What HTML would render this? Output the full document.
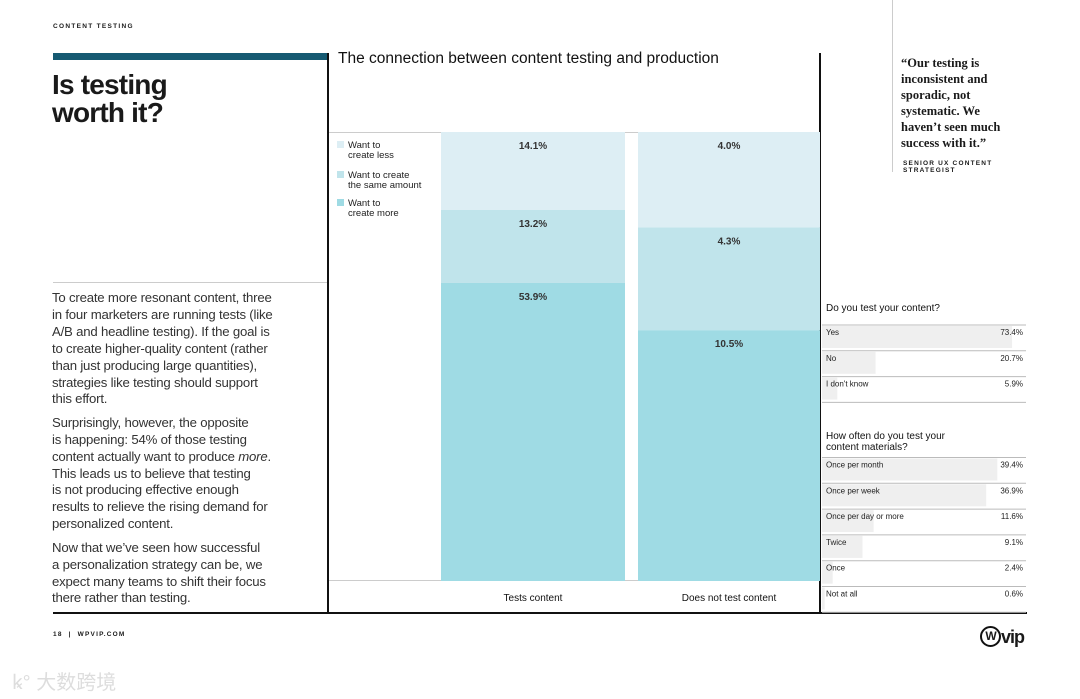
<!DOCTYPE html>
<html><head><meta charset="utf-8">
<style>
*{margin:0;padding:0;box-sizing:border-box}
body{width:1080px;height:699px;background:#fff;position:relative;overflow:hidden;font-family:"Liberation Sans",sans-serif;color:#1a1a1a}
.a{position:absolute}
.body p{font-size:13.2px;line-height:16.9px;color:#333;letter-spacing:-0.2px;margin-bottom:6.5px;white-space:nowrap}
</style></head>
<body>
<div class="a" style="left:53px;top:23px;font-size:6.5px;font-weight:bold;letter-spacing:1.3px">CONTENT TESTING</div>
<div class="a" style="left:53px;top:53px;width:276px;height:7px;background:#165a72"></div>
<div class="a" style="left:52px;top:71px;font-size:28px;line-height:28px;font-weight:bold;letter-spacing:-0.8px">Is testing<br>worth it?</div>
<div class="a" style="left:53px;top:282px;width:275px;height:1px;background:#ccc"></div>
<div class="a body" style="left:52px;top:290px;width:262px">
<p>To create more resonant content, three<br>in four marketers are running tests (like<br>A/B and headline testing). If the goal is<br>to create higher-quality content (rather<br>than just producing large quantities),<br>strategies like testing should support<br>this effort.</p>
<p>Surprisingly, however, the opposite<br>is happening: 54% of those testing<br>content actually want to produce <i>more</i>.<br>This leads us to believe that testing<br>is not producing effective enough<br>results to relieve the rising demand for<br>personalized content.</p>
<p>Now that we’ve seen how successful<br>a personalization strategy can be, we<br>expect many teams to shift their focus<br>there rather than testing.</p>
</div>
<div class="a" style="left:327px;top:53px;width:2px;height:561px;background:#111"></div>
<div class="a" style="left:819px;top:53px;width:2px;height:561px;background:#111"></div>
<div class="a" style="left:53px;top:612px;width:974px;height:2px;background:#111"></div>
<div class="a" style="left:892px;top:0;width:1px;height:172px;background:#ccc"></div>
<div class="a" style="left:901px;top:55px;width:120px;font-family:'Liberation Serif',serif;font-weight:bold;font-size:12.5px;line-height:16px">“Our testing is inconsistent and sporadic, not systematic. We haven’t seen much success with it.”</div>
<div class="a" style="left:903px;top:160px;font-size:6.5px;line-height:7px;font-weight:bold;letter-spacing:1.2px">SENIOR UX CONTENT<br>STRATEGIST</div>
<div class="a" style="left:53px;top:631px;font-size:6.5px;font-weight:bold;letter-spacing:1.2px">18 &nbsp;| &nbsp;WPVIP.COM</div>
<div class="a" style="left:980px;top:626px;font-size:18px;line-height:22px;font-weight:bold;letter-spacing:-1px"><span style="display:inline-block;width:21px;height:21px;border:2px solid #111;border-radius:50%;font-size:12px;text-align:center;line-height:17px;vertical-align:top">W</span>vip</div>
<div class="a" style="left:12px;top:666px;font-family:'Liberation Sans','Noto Sans CJK SC',sans-serif;font-size:20px;color:#ddd">ꝃ° 大数跨境</div>

<svg class="a" style="left:0;top:0" width="1080" height="699" id="chart"></svg>
<script>
const categories=["Tests content","Does not test content"];
const seriesNames=["Want to create less","Want to create the same amount","Want to create more"];
const lessVals=[14.1,4.0];
const sameVals=[13.2,4.3];
const moreVals=[53.9,10.5];
const q1Labels=["Yes","No","I don't know"];
const q1Vals=[73.4,20.7,5.9];
const q2Labels=["Once per month","Once per week","Once per day or more","Twice","Once","Not at all"];
const q2Vals=[39.4,36.9,11.6,9.1,2.4,0.6];

const NS="http://www.w3.org/2000/svg";
const svg=document.getElementById('chart');
function mk(t,a,txt){const e=document.createElementNS(NS,t);for(const k in a)e.setAttribute(k,a[k]);if(txt!==undefined)e.textContent=txt;svg.appendChild(e);return e;}
const F='Liberation Sans, sans-serif';
let t=mk('text',{x:338,y:63,'font-size':15.5,'font-family':F,fill:'#111'},"The connection between content testing and production");

mk('line',{x1:329,x2:820,y1:132.5,y2:132.5,stroke:'#ccc'});
mk('line',{x1:329,x2:820,y1:580.5,y2:580.5,stroke:'#ccc'});
const colors=['#ddeef4','#c0e4eb','#9fdbe4'];
const top0=132,bot=581,H=bot-top0;
const xs=[441,638],bw=[184,182];
function yScale(frac){return top0+frac*H;}
categories.forEach((c,i)=>{
  const vals=[lessVals[i],sameVals[i],moreVals[i]];
  const tot=vals.reduce((a,b)=>a+b,0);
  let acc=0;
  vals.forEach((v,j)=>{
    const y0=yScale(acc/tot),y1=yScale((acc+v)/tot);acc+=v;
    const r=mk('rect',{x:xs[i],y:y0,width:bw[i],height:y1-y0,fill:colors[j]});
    
    const l=mk('text',{x:xs[i]+bw[i]/2,y:y0+17,'font-size':10,'font-weight':'bold','font-family':F,'text-anchor':'middle',fill:'#333'},v.toFixed(1)+'%');
    
  });
  const cl=mk('text',{x:xs[i]+bw[i]/2,y:601,'font-size':10,'font-family':F,'text-anchor':'middle',fill:'#111'},c);
  
});
const legLines=[["Want to","create less"],["Want to create","the same amount"],["Want to","create more"]];
const legY=[141,171,199];
legLines.forEach((ls,j)=>{
  const g=mk('rect',{x:337,y:legY[j],width:7,height:7,fill:colors[j]});
  
  ls.forEach((s,k)=>{const e=mk('text',{x:348,y:legY[j]+7+k*10,'font-size':9.5,'font-family':F,fill:'#222'},s);
    });
});
function list(title,titleY,labels,vals,y0,scale){
  title.forEach((s,k)=>{const e=mk('text',{x:826,y:titleY+k*11,'font-size':10,'font-family':F,fill:'#111'},s);
    });
  labels.forEach((lb,i)=>{
    const y=y0+i*25.8;
    mk('line',{x1:822,x2:1026,y1:y,y2:y,stroke:'#bbb'});
    const b=mk('rect',{x:822,y:y+1,width:vals[i]*scale,height:22,fill:'#efefef'});
    
    mk('text',{x:826,y:y+10,'font-size':8,'font-family':F,fill:'#222'},lb);
    mk('text',{x:1023,y:y+10,'font-size':8,'font-family':F,fill:'#222','text-anchor':'end'},vals[i].toFixed(1)+'%');
  });
  mk('line',{x1:822,x2:1026,y1:y0+labels.length*25.8,y2:y0+labels.length*25.8,stroke:'#bbb'});
}
list(["Do you test your content?"],311,q1Labels,q1Vals,325,2.59);
list(["How often do you test your","content materials?"],439,q2Labels,q2Vals,457.5,4.45);
</script>
</body></html>
